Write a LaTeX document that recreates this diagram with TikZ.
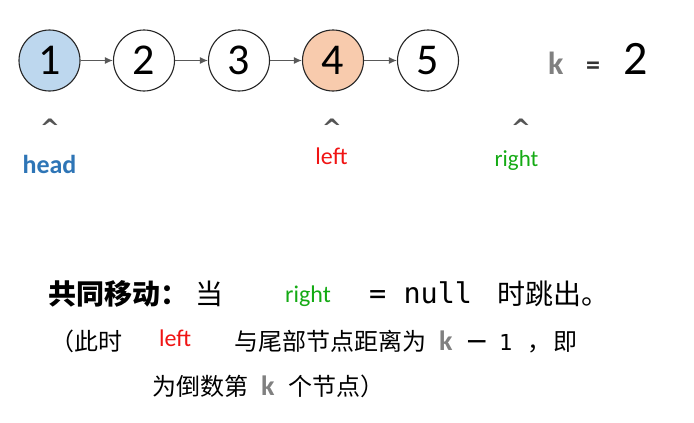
\documentclass[tikz,border=0pt]{standalone}
\usepackage{fontspec}
\setmainfont{Carlito}
\newfontfamily\cjk{Noto Sans CJK SC}
\newfontfamily\monof{DejaVu Sans Mono}
\newfontfamily\dvs{DejaVu Sans}
\usetikzlibrary{arrows.meta}
\definecolor{nodeblue}{RGB}{189,215,238}
\definecolor{nodepeach}{RGB}{248,203,173}
\definecolor{headblue}{RGB}{46,117,182}
\definecolor{kgray}{RGB}{128,128,128}
\definecolor{caretgray}{RGB}{85,85,85}
\definecolor{arrowgray}{RGB}{89,89,89}
\definecolor{leftred}{RGB}{240,20,20}
\definecolor{rightgreen}{RGB}{20,170,20}
\begin{document}
\begin{tikzpicture}[x=1pt,y=-1pt,
  lnode/.style={circle,draw=black!85,line width=1.1pt,minimum size=61pt,inner sep=0pt,
    font=\fontsize{44}{44}\selectfont},
  link/.style={arrowgray,line width=1.3pt,-{Latex[length=8pt,width=7pt]}},
  caret/.style={anchor=base,inner sep=0pt,text=caretgray,font=\dvs\fontsize{24}{24}\selectfont\bfseries},
  lbl/.style={anchor=base,inner sep=0pt},
  txt/.style={anchor=base west,inner sep=0pt}]
\useasboundingbox (0,0) rectangle (694,423);
% linked list
\node[lnode,fill=nodeblue] (n1) at (49.5,60.5) {1};
\node[lnode] (n2) at (144,60.5) {2};
\node[lnode] (n3) at (239,60.5) {3};
\node[lnode,fill=nodepeach] (n4) at (333,60.5) {4};
\node[lnode] (n5) at (428,60.5) {5};
\draw[link] (n1) -- (n2);
\draw[link] (n2) -- (n3);
\draw[link] (n3) -- (n4);
\draw[link] (n4) -- (n5);
% k = 2
\node[txt,text=kgray,font=\fontsize{32}{32}\selectfont\bfseries] (kk) at (548,74) {k};
\node[txt,text=black!80,font=\fontsize{28}{28}\selectfont\bfseries] (keq) at (586,74) {=};
\node[txt,font=\fontsize{48}{48}\selectfont] (kv) at (623,74) {2};
% carets and pointer labels
\node[caret] (c1) at (50,136) {\textasciicircum};
\node[caret] (c2) at (332,136) {\textasciicircum};
\node[caret] (c3) at (521,136) {\textasciicircum};
\node[lbl,text=headblue,font=\fontsize{26}{26}\selectfont\bfseries] (head) at (49.5,173) {head};
\node[lbl,text=leftred,font=\fontsize{24}{24}\selectfont] (left) at (331.5,164) {left};
\node[lbl,text=rightgreen,font=\fontsize{23}{23}\selectfont] (right) at (516.5,166) {right};
% line 1
\node[txt,font=\cjk\fontsize{28}{28}\selectfont\bfseries] (l1a) at (48,304) {共同移动：};
\node[txt,font=\cjk\fontsize{28}{28}\selectfont] (l1b) at (195,304) {当};
\node[txt,text=rightgreen,font=\fontsize{24}{24}\selectfont] (l1c) at (285,302) {right};
\node[txt,font=\monof\fontsize{28.5}{28.5}\selectfont] (l1d) at (369,303) {= null};
\node[txt,font=\cjk\fontsize{28}{28}\selectfont] (l1e) at (497,304) {时跳出。};
% line 2
\node[txt,font=\cjk\fontsize{24}{24}\selectfont] (l2a) at (50,350) {（此时};
\node[txt,text=leftred,font=\fontsize{24}{24}\selectfont] (l2b) at (159,346) {left};
\node[txt,font=\cjk\fontsize{24}{24}\selectfont] (l2c) at (234,350) {与尾部节点距离为};
\node[txt,text=kgray,font=\fontsize{28}{28}\selectfont\bfseries] (l2k) at (439,350) {k};
\node[txt,font=\dvs\fontsize{28}{28}\selectfont] (l2m) at (465,350) {−};
\node[txt,font=\monof\fontsize{22}{22}\selectfont] (l2n) at (499,350) {1};
\node[txt,font=\cjk\fontsize{24}{24}\selectfont] (l2o) at (527,350) {，};
\node[txt,font=\cjk\fontsize{24}{24}\selectfont] (l2p) at (553,350) {即};
% line 3
\node[txt,font=\cjk\fontsize{24}{24}\selectfont] (l3a) at (152,395) {为倒数第};
\node[txt,text=kgray,font=\fontsize{28}{28}\selectfont\bfseries] (l3k) at (261,395) {k};
\node[txt,font=\cjk\fontsize{24}{24}\selectfont] (l3b) at (288,395) {个节点）};
\end{tikzpicture}
\end{document}
